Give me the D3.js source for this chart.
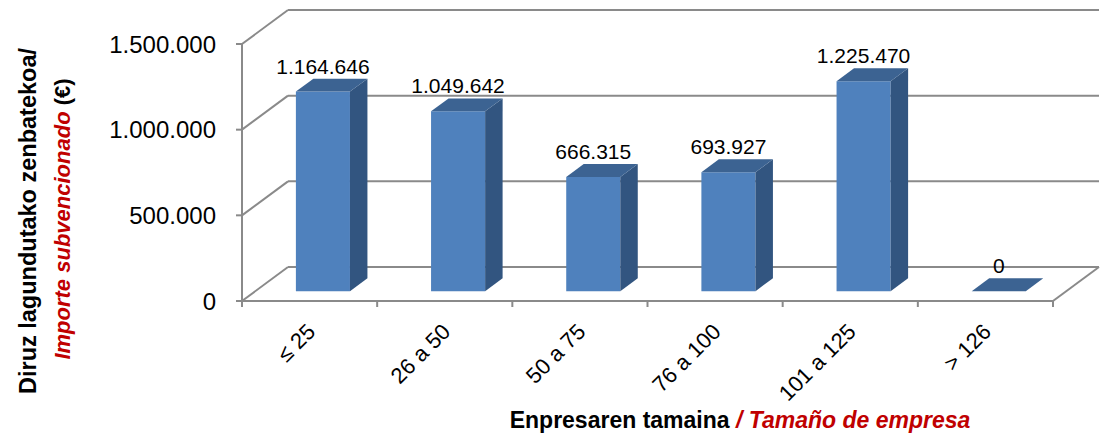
<!DOCTYPE html>
<html>
<head>
<meta charset="utf-8">
<script src="https://cdn.jsdelivr.net/npm/d3@7"></script>
<style>
  body { margin: 0; background: #fff; }
  text { font-family: "Liberation Sans", Arial, sans-serif; }
</style>
</head>
<body>
<div id="chart"></div>
<script>
// Datos
const categories = ["≤ 25", "26 a 50", "50 a 75", "76 a 100", "101 a 125", "> 126"];
const values = [1164646, 1049642, 666315, 693927, 1225470, 0];
const yTicks = [0, 500000, 1000000, 1500000];

const width = 1107;
const height = 433;
const marginLeft = 242;
const plotRight = 1053;
const plotBottom = 301;
const plotTop = 44;
// profundidad de la caja 3D
const depthX = 46;
const depthY = -34;
const barFront = 0.29;
const barBack = 0.67;

const gridColor = "#8a8a8a";
const red = "#c00000";

const svg = d3.select("#chart").append("svg")
  .attr("width", width)
  .attr("height", height);

const x = d3.scaleBand()
  .domain(categories)
  .range([marginLeft, plotRight]);

const y = d3.scaleLinear()
  .domain([0, 1500000])
  .range([plotBottom, plotTop]);

const fmt = v => d3.format(",")(v).replace(/,/g, ".");
const line = d3.line();

// Paredes y rejilla
const grid = svg.append("g")
  .attr("fill", "none")
  .attr("stroke", gridColor)
  .attr("stroke-width", 2);

yTicks.forEach(t => {
  grid.append("path").attr("d", line([[marginLeft, y(t)], [marginLeft + depthX, y(t) + depthY]]));
  grid.append("path").attr("d", line([[marginLeft + depthX, y(t) + depthY], [plotRight + depthX, y(t) + depthY]]));
  grid.append("path").attr("d", line([[marginLeft - 6, y(t)], [marginLeft, y(t)]]));
});
// suelo
grid.append("path").attr("d", line([[plotRight, y(0)], [plotRight + depthX, y(0) + depthY]]));
grid.append("path").attr("d", line([[marginLeft, y(0)], [plotRight, y(0)]]));
grid.append("path").attr("d", line([[marginLeft, y(1500000)], [marginLeft, y(0)]]));
// marcas de categoría
const edges = categories.map(c => x(c)).concat([plotRight]);
edges.forEach(e => {
  grid.append("path").attr("d", line([[e, y(0)], [e, y(0) + 6]]));
});

// Barras 3D
const bw = x.bandwidth();
const bars = svg.append("g");
categories.forEach((c, i) => {
  const v = values[i];
  const x0 = x(c) + bw * 0.3 + barFront * depthX;
  const x1 = x(c) + bw * 0.7 + barFront * depthX;
  const yb = y(0) + barFront * depthY;
  const yt = y(v) + barFront * depthY;
  const ddx = (barBack - barFront) * depthX;
  const ddy = (barBack - barFront) * depthY;
  const g = bars.append("g");
  if (v > 0) {
    g.append("path")
      .attr("fill", "#4f81bd")
      .attr("d", line([[x0, yt], [x1, yt], [x1, yb], [x0, yb]]) + "Z");
    g.append("path")
      .attr("fill", "#325580")
      .attr("d", line([[x1, yt], [x1 + ddx, yt + ddy], [x1 + ddx, yb + ddy], [x1, yb]]) + "Z");
  }
  g.append("path")
    .attr("fill", "#3c6392")
    .attr("d", line([[x0, yt], [x1, yt], [x1 + ddx, yt + ddy], [x0 + ddx, yt + ddy]]) + "Z");

  svg.append("text")
    .attr("x", (x0 + x1) / 2)
    .attr("y", yt - 18)
    .attr("text-anchor", "middle")
    .attr("font-size", 21)
    .attr("fill", "#000")
    .text(fmt(v));
});

// Eje Y etiquetas
svg.append("g")
  .selectAll("text")
  .data(yTicks)
  .join("text")
  .attr("x", marginLeft - 26)
  .attr("y", d => y(d))
  .attr("dy", "0.36em")
  .attr("text-anchor", "end")
  .attr("font-size", 24)
  .attr("fill", "#000")
  .text(d => fmt(d));

// Eje X etiquetas
svg.append("g")
  .selectAll("text")
  .data(categories)
  .join("text")
  .attr("transform", d => `translate(${x(d) + bw / 2 + 7},333) rotate(-45)`)
  .attr("text-anchor", "end")
  .attr("font-size", 22)
  .attr("fill", "#000")
  .text(d => d);

// Títulos
const xt = svg.append("text")
  .attr("x", 740)
  .attr("y", 428)
  .attr("text-anchor", "middle")
  .attr("font-size", 23)
  .attr("font-weight", "bold");
xt.append("tspan").attr("fill", "#000").text("Enpresaren tamaina ");
xt.append("tspan").attr("fill", red).attr("font-style", "italic").text("/ Tamaño de empresa");

svg.append("text")
  .attr("transform", "translate(36,221) rotate(-90)")
  .attr("text-anchor", "middle")
  .attr("font-size", 23.5)
  .attr("font-weight", "bold")
  .attr("fill", "#000")
  .text("Diruz lagundutako zenbatekoa/");

const yt2 = svg.append("text")
  .attr("transform", "translate(70,219) rotate(-90)")
  .attr("text-anchor", "middle")
  .attr("font-size", 22)
  .attr("font-weight", "bold");
yt2.append("tspan").attr("fill", red).attr("font-style", "italic").text("Importe subvencionado");
yt2.append("tspan").attr("fill", "#000").text(" (€)");
</script>
</body>
</html>
